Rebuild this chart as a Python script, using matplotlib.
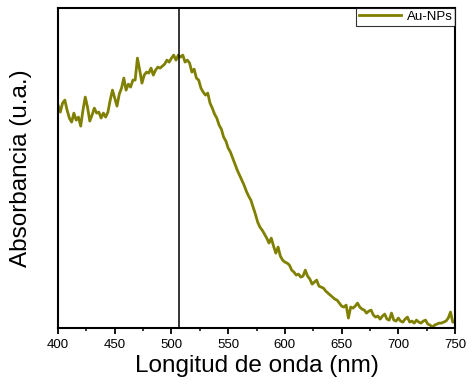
import matplotlib
matplotlib.use("Agg")
import matplotlib.pyplot as plt
from matplotlib.ticker import MultipleLocator

plt.rcParams["font.family"] = ["Liberation Sans", "DejaVu Sans"]

# UV-Vis spectrum (arbitrary units)
wavelength = list(range(400, 752, 2))
absorbance = [
    0.223, 0.216, 0.225, 0.228, 0.218, 0.210, 0.206, 0.215, 0.208, 0.211,
    0.202, 0.218, 0.231, 0.221, 0.207, 0.213, 0.220, 0.215, 0.216, 0.210,
    0.215, 0.211, 0.216, 0.228, 0.238, 0.230, 0.222, 0.234, 0.240, 0.250,
    0.238, 0.244, 0.241, 0.248, 0.248, 0.270, 0.258, 0.245, 0.253, 0.256,
    0.255, 0.260, 0.253, 0.258, 0.261, 0.260, 0.262, 0.264, 0.268, 0.266,
    0.270, 0.273, 0.268, 0.273, 0.271, 0.273, 0.266, 0.268, 0.265, 0.256,
    0.259, 0.250, 0.248, 0.240, 0.236, 0.233, 0.235, 0.225, 0.220, 0.214,
    0.210, 0.203, 0.199, 0.191, 0.187, 0.180, 0.176, 0.170, 0.164, 0.158,
    0.153, 0.148, 0.143, 0.137, 0.132, 0.128, 0.121, 0.114, 0.106, 0.101,
    0.098, 0.094, 0.090, 0.085, 0.090, 0.082, 0.075, 0.081, 0.072, 0.068,
    0.066, 0.065, 0.063, 0.058, 0.056, 0.053, 0.054, 0.051, 0.052, 0.058,
    0.052, 0.049, 0.044, 0.046, 0.048, 0.042, 0.041, 0.040, 0.037, 0.035,
    0.033, 0.031, 0.029, 0.028, 0.025, 0.022, 0.021, 0.023, 0.010, 0.021,
    0.020, 0.022, 0.025, 0.021, 0.019, 0.018, 0.015, 0.017, 0.018, 0.013,
    0.011, 0.012, 0.009, 0.012, 0.014, 0.009, 0.008, 0.015, 0.008, 0.007,
    0.010, 0.007, 0.006, 0.009, 0.011, 0.006, 0.007, 0.005, 0.008, 0.006,
    0.005, 0.007, 0.008, 0.004, 0.003, 0.001, 0.003, 0.004, 0.005, 0.005,
    0.006, 0.007, 0.010, 0.016, 0.006, 0.006,
]
peak_nm = 507
series_label = "Au-NPs"

fig = plt.figure(figsize=(4.74, 3.86), dpi=100)
ax = fig.add_axes([0.1224, 0.150, 0.8376, 0.829])

ax.plot(wavelength, absorbance, color="#808000", lw=2.0, label=series_label)
ax.axvline(peak_nm, color="black", lw=1.1)

ax.set_xlim(400, 750)
ax.set_ylim(0, 0.320)
ax.xaxis.set_major_locator(MultipleLocator(50))
ax.xaxis.set_minor_locator(MultipleLocator(25))
ax.tick_params(axis="x", which="major", direction="out", length=4.5, width=1.3,
               labelsize=9.5, pad=3)
ax.tick_params(axis="x", which="minor", direction="out", length=2.5, width=1.1)
ax.set_yticks([])
for sp in ax.spines.values():
    sp.set_linewidth(1.5)

ax.set_xlabel("Longitud de onda (nm)", fontsize=17.5, labelpad=3)
ax.set_ylabel("Absorbancia (u.a.)", fontsize=17.5, labelpad=19)

leg = ax.legend(loc="upper right", fontsize=9.5, frameon=True, fancybox=False,
                borderaxespad=0, handlelength=3.2, borderpad=0.2,
                handletextpad=0.4)
leg.get_frame().set_edgecolor("black")
leg.get_frame().set_linewidth(0.8)

fig.savefig("out.png", dpi=100)
